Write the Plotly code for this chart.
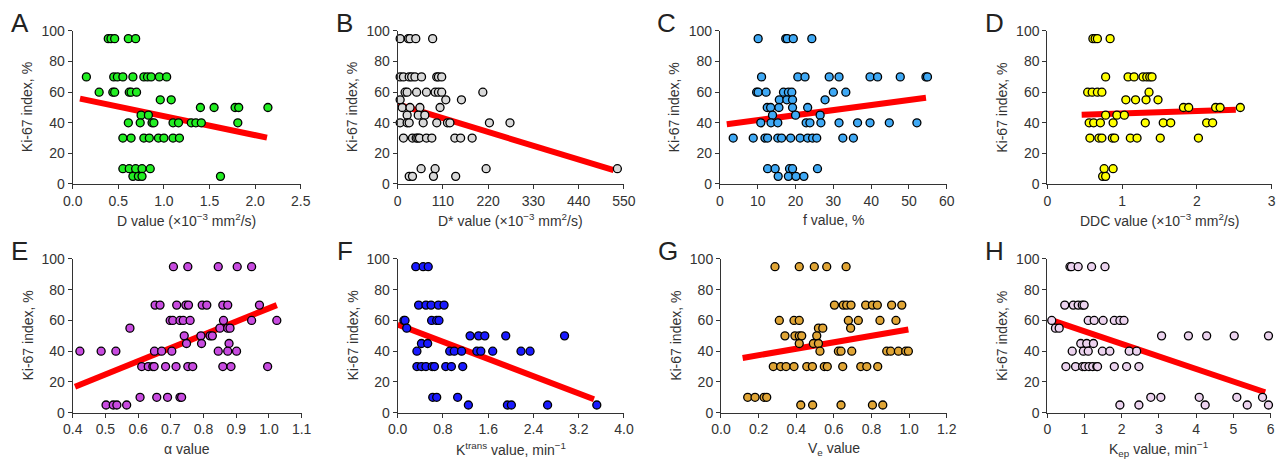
import plotly.graph_objects as go

# ---------------- data ----------------
y_ticks = [0, 20, 40, 60, 80, 100]

# A: D value
A_x = [0.39, 0.42, 0.46, 0.61, 0.69,
       0.15, 0.45, 0.49, 0.55, 0.66, 0.78, 0.82, 0.86, 0.95, 1.03,
       0.29, 0.44, 0.46, 0.62, 0.64, 0.70,
       0.96, 1.08,
       1.40, 1.55, 1.78, 1.82, 2.14,
       0.75, 0.83,
       0.61, 0.74, 0.87, 0.89, 1.10, 1.16, 1.30, 1.35, 1.41, 1.81,
       0.55, 0.64, 0.78, 0.84, 0.94, 1.00, 1.10, 1.17,
       0.55, 0.62, 0.69, 0.76, 0.85,
       0.66, 0.72, 0.76, 1.62]
A_y = [95]*5 + [70]*10 + [60]*6 + [55]*2 + [50]*5 + [45]*2 + [40]*10 + [30]*8 + [10]*5 + [5]*4
A_fit_x = [0.08, 2.13]
A_fit_y = [55.8, 30.3]

# B: D* value
B_x = [6, 26, 30, 44, 85,
       6, 14, 28, 34, 42, 58, 95, 99, 107,
       18, 23, 46, 70, 91, 99, 107, 207,
       6, 117, 155,
       11, 30, 54, 103,
       23, 50, 66,
       6, 23, 28, 62, 95, 121, 127, 223, 273,
       14, 36, 45, 49, 53, 70, 83, 139, 153, 181,
       57, 91, 215, 534,
       28, 36, 87, 141]
B_y = [95]*5 + [70]*9 + [60]*8 + [55]*3 + [50]*4 + [45]*3 + [40]*9 + [30]*10 + [10]*4 + [5]*4
B_fit_x = [0, 525]
B_fit_y = [52, 9]

# C: f value
C_x = [10.1, 17.4, 17.8, 19.4, 24.3,
       11.0, 20.6, 22.5, 28.9, 31.5, 39.7, 41.7, 47.7, 54.5, 54.9,
       9.7, 10.1, 12.2, 16.8, 18.1, 19.0, 30.0, 33.3,
       15.7, 17.7, 19.2, 27.8,
       12.5, 13.4, 15.6, 19.2, 23.2,
       13.9, 20.0, 26.5,
       10.8, 13.5, 15.3, 22.8, 23.8, 26.7, 31.5, 36.4, 39.7, 44.8, 52.1,
       3.5, 8.8, 11.9, 12.6, 15.3, 16.3, 18.7, 21.2, 23.2, 24.5, 25.6, 32.5, 35.3,
       12.6, 14.6, 18.4, 19.2, 25.8,
       15.4, 18.1, 20.1, 22.2]
C_y = [95]*5 + [70]*10 + [60]*8 + [55]*4 + [50]*5 + [45]*3 + [40]*11 + [30]*13 + [10]*5 + [5]*4
C_fit_x = [1.8, 54.5]
C_fit_y = [39, 56.4]

# D: DDC value
D_x = [0.61, 0.64, 0.67, 0.84,
       0.78, 1.08, 1.16, 1.28, 1.33, 1.37, 1.40,
       0.54, 0.60, 0.67, 0.73, 1.36,
       1.05, 1.18, 1.32, 1.48,
       1.82, 1.89, 2.25, 2.31, 2.58,
       0.78, 0.93, 1.03,
       0.56, 0.62, 0.71, 0.88, 1.31, 1.55, 1.65, 2.13, 2.21,
       0.57, 0.69, 0.73, 0.87, 0.90, 1.11, 1.20, 1.51, 2.02,
       0.76, 0.88,
       0.74, 0.78]
D_y = [95]*4 + [70]*7 + [60]*5 + [55]*4 + [50]*5 + [45]*3 + [40]*9 + [30]*9 + [10]*2 + [5]*2
D_fit_x = [0.46, 2.52]
D_fit_y = [45.2, 48.5]

# E: alpha value
E_x = [0.708, 0.752, 0.845, 0.903, 0.947,
       0.652, 0.667, 0.718, 0.746, 0.754, 0.796, 0.810, 0.859, 0.874, 0.971,
       0.698, 0.706, 0.728, 0.738, 0.759, 0.861, 0.947, 1.024,
       0.575, 0.850, 0.874, 0.881,
       0.741, 0.792, 0.820, 0.827,
       0.748, 0.794, 0.878,
       0.422, 0.487, 0.532, 0.650, 0.672, 0.703, 0.845, 0.874, 0.901,
       0.611, 0.631, 0.645, 0.649, 0.684, 0.716, 0.752, 0.767, 0.859, 0.884, 0.996,
       0.606, 0.657, 0.690, 0.728, 0.733,
       0.502, 0.524, 0.535, 0.565]
E_y = [95]*5 + [70]*10 + [60]*8 + [55]*4 + [50]*4 + [45]*3 + [40]*9 + [30]*11 + [10]*5 + [5]*4
E_fit_x = [0.407, 1.024]
E_fit_y = [16.9, 70]

# F: Ktrans value
F_x = [0.32, 0.45, 0.54,
       0.37, 0.50, 0.59, 0.72, 0.82,
       0.11, 0.13, 0.60, 0.69, 0.73,
       0.16,
       1.28, 1.43, 1.54, 1.91, 2.95,
       0.42, 0.53,
       0.34, 0.92, 1.00, 1.13, 1.40, 1.47, 1.68, 2.18, 2.34,
       0.34, 0.42, 0.50, 0.61, 0.65, 0.85, 0.95, 1.15,
       0.62, 0.69, 1.06,
       1.25, 1.94, 2.01, 2.65, 3.52]
F_y = [95]*3 + [70]*5 + [60]*5 + [55]*1 + [50]*5 + [45]*2 + [40]*9 + [30]*8 + [10]*3 + [5]*5
F_fit_x = [0.0, 3.47]
F_fit_y = [57.4, 8.7]

# G: Ve value
G_x = [0.287, 0.416, 0.496, 0.562, 0.665,
       0.603, 0.650, 0.668, 0.691, 0.769, 0.805, 0.831, 0.907, 0.961,
       0.310, 0.388, 0.416, 0.677, 0.730, 0.845, 0.930,
       0.518, 0.541, 0.689,
       0.340, 0.393, 0.416, 0.429, 0.509,
       0.416, 0.491, 0.518,
       0.526, 0.624, 0.638, 0.695, 0.881, 0.902, 0.943, 0.982, 0.996,
       0.278, 0.317, 0.346, 0.388, 0.456, 0.486, 0.549, 0.565, 0.647, 0.743, 0.775, 0.833,
       0.142, 0.181, 0.229, 0.243,
       0.424, 0.487, 0.638, 0.805, 0.860]
G_y = [95]*5 + [70]*9 + [60]*7 + [55]*3 + [50]*5 + [45]*3 + [40]*9 + [30]*12 + [10]*4 + [5]*5
G_fit_x = [0.115, 0.996]
G_fit_y = [35.6, 54.1]

# H: Kep value
H_x = [0.61, 0.65, 0.83, 1.19, 1.55,
       0.47, 0.70, 0.83, 0.94, 0.99,
       0.12, 1.10, 1.26, 1.50, 1.80, 1.95, 2.06,
       0.22, 0.32,
       3.07, 3.79, 4.28, 5.02, 5.94,
       0.90, 1.06, 1.24,
       0.67, 0.97, 1.10, 1.48, 1.68, 2.20, 2.40,
       0.50, 0.76, 0.95, 1.01, 1.12, 1.22, 1.33, 1.35, 1.80, 2.13, 2.46,
       2.78, 3.05, 4.08, 5.09, 5.78,
       1.95, 2.46, 4.24, 5.37, 5.94]
H_y = [95]*5 + [70]*5 + [60]*7 + [55]*2 + [50]*5 + [45]*3 + [40]*7 + [30]*11 + [10]*5 + [5]*5
H_fit_x = [0.05, 5.85]
H_fit_y = [60.7, 13.3]

# ---------------- layout / styling ----------------
panels = [
    dict(letter="A", x=A_x, y=A_y, fx=A_fit_x, fy=A_fit_y, color="#22ee22",
         rng=[0, 2.5], tick=0.5, fmt=".1f", r0=0,
         title="D value (×10<sup>−3</sup> mm<sup>2</sup>/s)",
         xd=[0.0567, 0.2346], yd=[0.6009, 0.9328]),
    dict(letter="B", x=B_x, y=B_y, fx=B_fit_x, fy=B_fit_y, color="#d9d9d9",
         rng=[0, 550], tick=110, fmt="d", r0=0,
         title="D* value (×10<sup>−3</sup> mm<sup>2</sup>/s)",
         xd=[0.3102, 0.4867], yd=[0.6009, 0.9328]),
    dict(letter="C", x=C_x, y=C_y, fx=C_fit_x, fy=C_fit_y, color="#3fa9f5",
         rng=[0, 60], tick=10, fmt="d", r0=0,
         title="f value, %",
         xd=[0.5616, 0.7385], yd=[0.6009, 0.9328]),
    dict(letter="D", x=D_x, y=D_y, fx=D_fit_x, fy=D_fit_y, color="#ffff00",
         rng=[0, 3], tick=1, fmt="d", r0=0,
         title="DDC value (×10<sup>−3</sup> mm<sup>2</sup>/s)",
         xd=[0.8169, 0.9920], yd=[0.6009, 0.9328]),
    dict(letter="E", x=E_x, y=E_y, fx=E_fit_x, fy=E_fit_y, color="#c84be0",
         rng=[0.4, 1.1], tick=0.1, fmt=".1f", r0=0.4,
         title="α value",
         xd=[0.0567, 0.2353], yd=[0.1048, 0.4382]),
    dict(letter="F", x=F_x, y=F_y, fx=F_fit_x, fy=F_fit_y, color="#1a1aff",
         rng=[0, 4.0], tick=0.8, fmt=".1f", r0=0,
         title="K<sup>trans</sup> value, min<sup>−1</sup>",
         xd=[0.3102, 0.4867], yd=[0.1048, 0.4382]),
    dict(letter="G", x=G_x, y=G_y, fx=G_fit_x, fy=G_fit_y, color="#e0a535",
         rng=[0, 1.2], tick=0.2, fmt=".1f", r0=0,
         title="V<sub>e</sub> value",
         xd=[0.5624, 0.7385], yd=[0.1048, 0.4382]),
    dict(letter="H", x=H_x, y=H_y, fx=H_fit_x, fy=H_fit_y, color="#ecd3ef",
         rng=[0, 6], tick=1, fmt="d", r0=0,
         title="K<sub>ep</sub> value, min<sup>−1</sup>",
         xd=[0.8169, 0.9912], yd=[0.1048, 0.4382]),
]

FONT = "Liberation Sans, Arial, Helvetica, sans-serif"
TXT = "#333333"

fig = go.Figure()
annotations = []
for i, p in enumerate(panels):
    n = "" if i == 0 else str(i + 1)
    xa, ya = "x" + n, "y" + n
    fig.add_trace(go.Scatter(
        x=p["fx"], y=p["fy"], mode="lines", xaxis=xa, yaxis=ya,
        line=dict(color="#ff0000", width=6), showlegend=False, hoverinfo="skip"))
    fig.add_trace(go.Scatter(
        x=p["x"], y=p["y"], mode="markers", xaxis=xa, yaxis=ya, cliponaxis=False,
        marker=dict(size=8, color=p["color"], line=dict(color="#000000", width=1.3)),
        showlegend=False))
    common = dict(showline=True, linecolor=TXT, linewidth=1, ticks="outside",
                  ticklen=4, tickwidth=1, tickcolor=TXT, showgrid=False,
                  zeroline=False, automargin=False,
                  tickfont=dict(family=FONT, size=14, color=TXT))
    fig.layout["xaxis" + n] = dict(domain=p["xd"], anchor=ya, range=p["rng"],
                                   tick0=p["r0"], dtick=p["tick"], tickformat=p["fmt"],
                                   **common)
    fig.layout["yaxis" + n] = dict(domain=p["yd"], anchor=xa, range=[0, 100],
                                   tickvals=y_ticks, **common)
    annotations.append(dict(text=p["title"], xref=xa + " domain", yref=ya + " domain",
                            x=0.5, y=0, xanchor="center", yanchor="middle", yshift=-36,
                            showarrow=False, font=dict(family=FONT, size=14, color=TXT)))
    annotations.append(dict(text="Ki-67 index, %", xref=xa + " domain", yref=ya + " domain",
                            x=0, y=0.5, xanchor="center", yanchor="middle", xshift=-45,
                            textangle=-90, showarrow=False,
                            font=dict(family=FONT, size=14, color=TXT)))
    annotations.append(dict(text=p["letter"], xref=xa + " domain", yref=ya + " domain",
                            x=0, y=1, xanchor="center", yanchor="middle", xshift=-53, yshift=8,
                            showarrow=False, font=dict(family=FONT, size=26, color="#222222")))

fig.update_layout(width=1282, height=461, margin=dict(l=0, r=0, t=0, b=0, pad=0),
                  autosize=False,
                  paper_bgcolor="white", plot_bgcolor="white",
                  annotations=annotations, font=dict(family=FONT, color=TXT))
fig.write_html("out.html", config={"displayModeBar": False, "responsive": False},
               post_script="document.body.style.margin='0';document.body.style.overflow='hidden';")
